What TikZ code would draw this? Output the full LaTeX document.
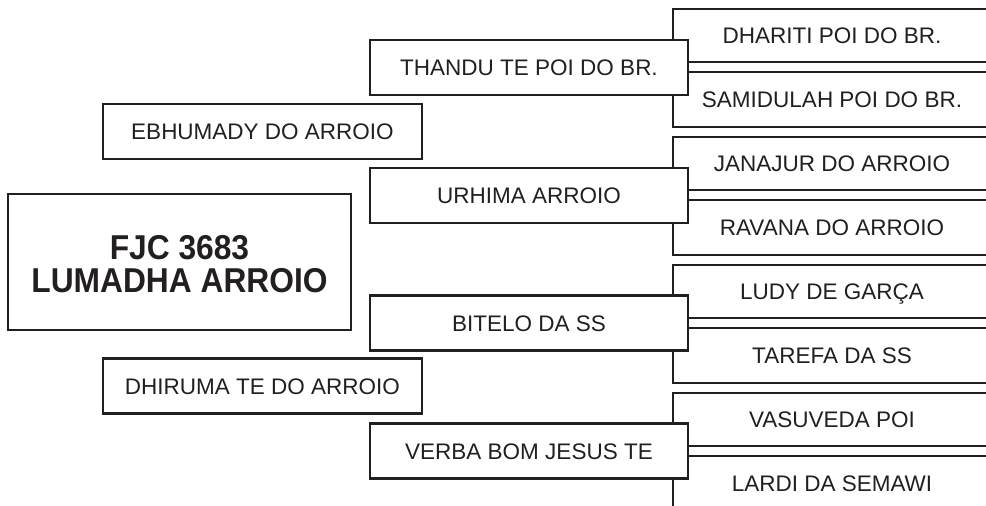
\documentclass[tikz,border=0pt]{standalone}
\usepackage{fontspec}
\setmainfont{Liberation Sans}
\newfontfamily\mainboldfont[FakeStretch=0.92]{Liberation Sans}
\definecolor{ink}{HTML}{231F20}
\begin{document}
\begin{tikzpicture}[x=1pt,y=-1pt]
\tikzset{
  frame/.style={draw=ink, line width=2.4pt, line join=miter},
  box/.style={frame, fill=white, rectangle, inner sep=0pt, text=ink,
    font=\fontsize{22.5}{27}\selectfont, text height=16pt, text depth=0pt},
  gentwo/.style={box, minimum width=319pt, minimum height=55pt},
  genthree/.style={box, minimum width=318pt, minimum height=55pt},
  lbl/.style={inner sep=0pt, text=ink, font=\fontsize{22.5}{27}\selectfont,
    text height=16pt, text depth=0pt},
  mainbox/.style={frame, fill=white, rectangle, inner sep=0pt, text=ink,
    minimum width=343pt, minimum height=136pt, align=center,
    font=\mainboldfont\bfseries\fontsize{34.5}{33}\selectfont},
}
\useasboundingbox (0,0) rectangle (986,506);
\fill[white] (0,0) rectangle (986,506);

% generation 4: open frames (right side runs off the page)
\foreach \k in {0,1,2,3}{
  \pgfmathsetmacro{\ta}{9+128*\k}
  \pgfmathsetmacro{\ba}{62+128*\k}
  \pgfmathsetmacro{\tb}{72+128*\k}
  \pgfmathsetmacro{\bb}{127+128*\k}
  \draw[frame] (995,\ta) -- (673,\ta) -- (673,\ba) -- (995,\ba);
  \draw[frame] (995,\tb) -- (673,\tb) -- (673,\bb) -- (995,\bb);
}
\node[lbl] (p1) at (832,35.5)  {DHARITI POI DO BR.};
\node[lbl] (p2) at (832,99.5)  {SAMIDULAH POI DO BR.};
\node[lbl] (p3) at (832,163.5) {JANAJUR DO ARROIO};
\node[lbl] (p4) at (832,227.5) {RAVANA DO ARROIO};
\node[lbl] (p5) at (832,291.5) {LUDY DE GARÇA};
\node[lbl] (p6) at (832,355.5) {TAREFA DA SS};
\node[lbl] (p7) at (832,419.5) {VASUVEDA POI};
\node[lbl] (p8) at (832,483.5) {LARDI DA SEMAWI};

% generation 3
\node[genthree] (g1) at (529,67.5)  {THANDU TE POI DO BR.};
\node[genthree] (g2) at (529,195.5) {URHIMA ARROIO};
\node[genthree] (g3) at (529,323)   {BITELO DA SS};
\node[genthree] (g4) at (529,451)   {VERBA BOM JESUS TE};

% generation 2
\node[gentwo] (s) at (262.5,131.5) {EBHUMADY DO ARROIO};
\node[gentwo] (d) at (262.5,386)   {DHIRUMA TE DO ARROIO};

% main
\node[mainbox] (m) at (179.5,262) {};
\node[inner sep=0pt, align=center, text=ink,
  font=\mainboldfont\bfseries\fontsize{34.5}{33}\selectfont] (mt) at (179.5,264) {FJC 3683\\LUMADHA ARROIO};
\end{tikzpicture}
\end{document}
